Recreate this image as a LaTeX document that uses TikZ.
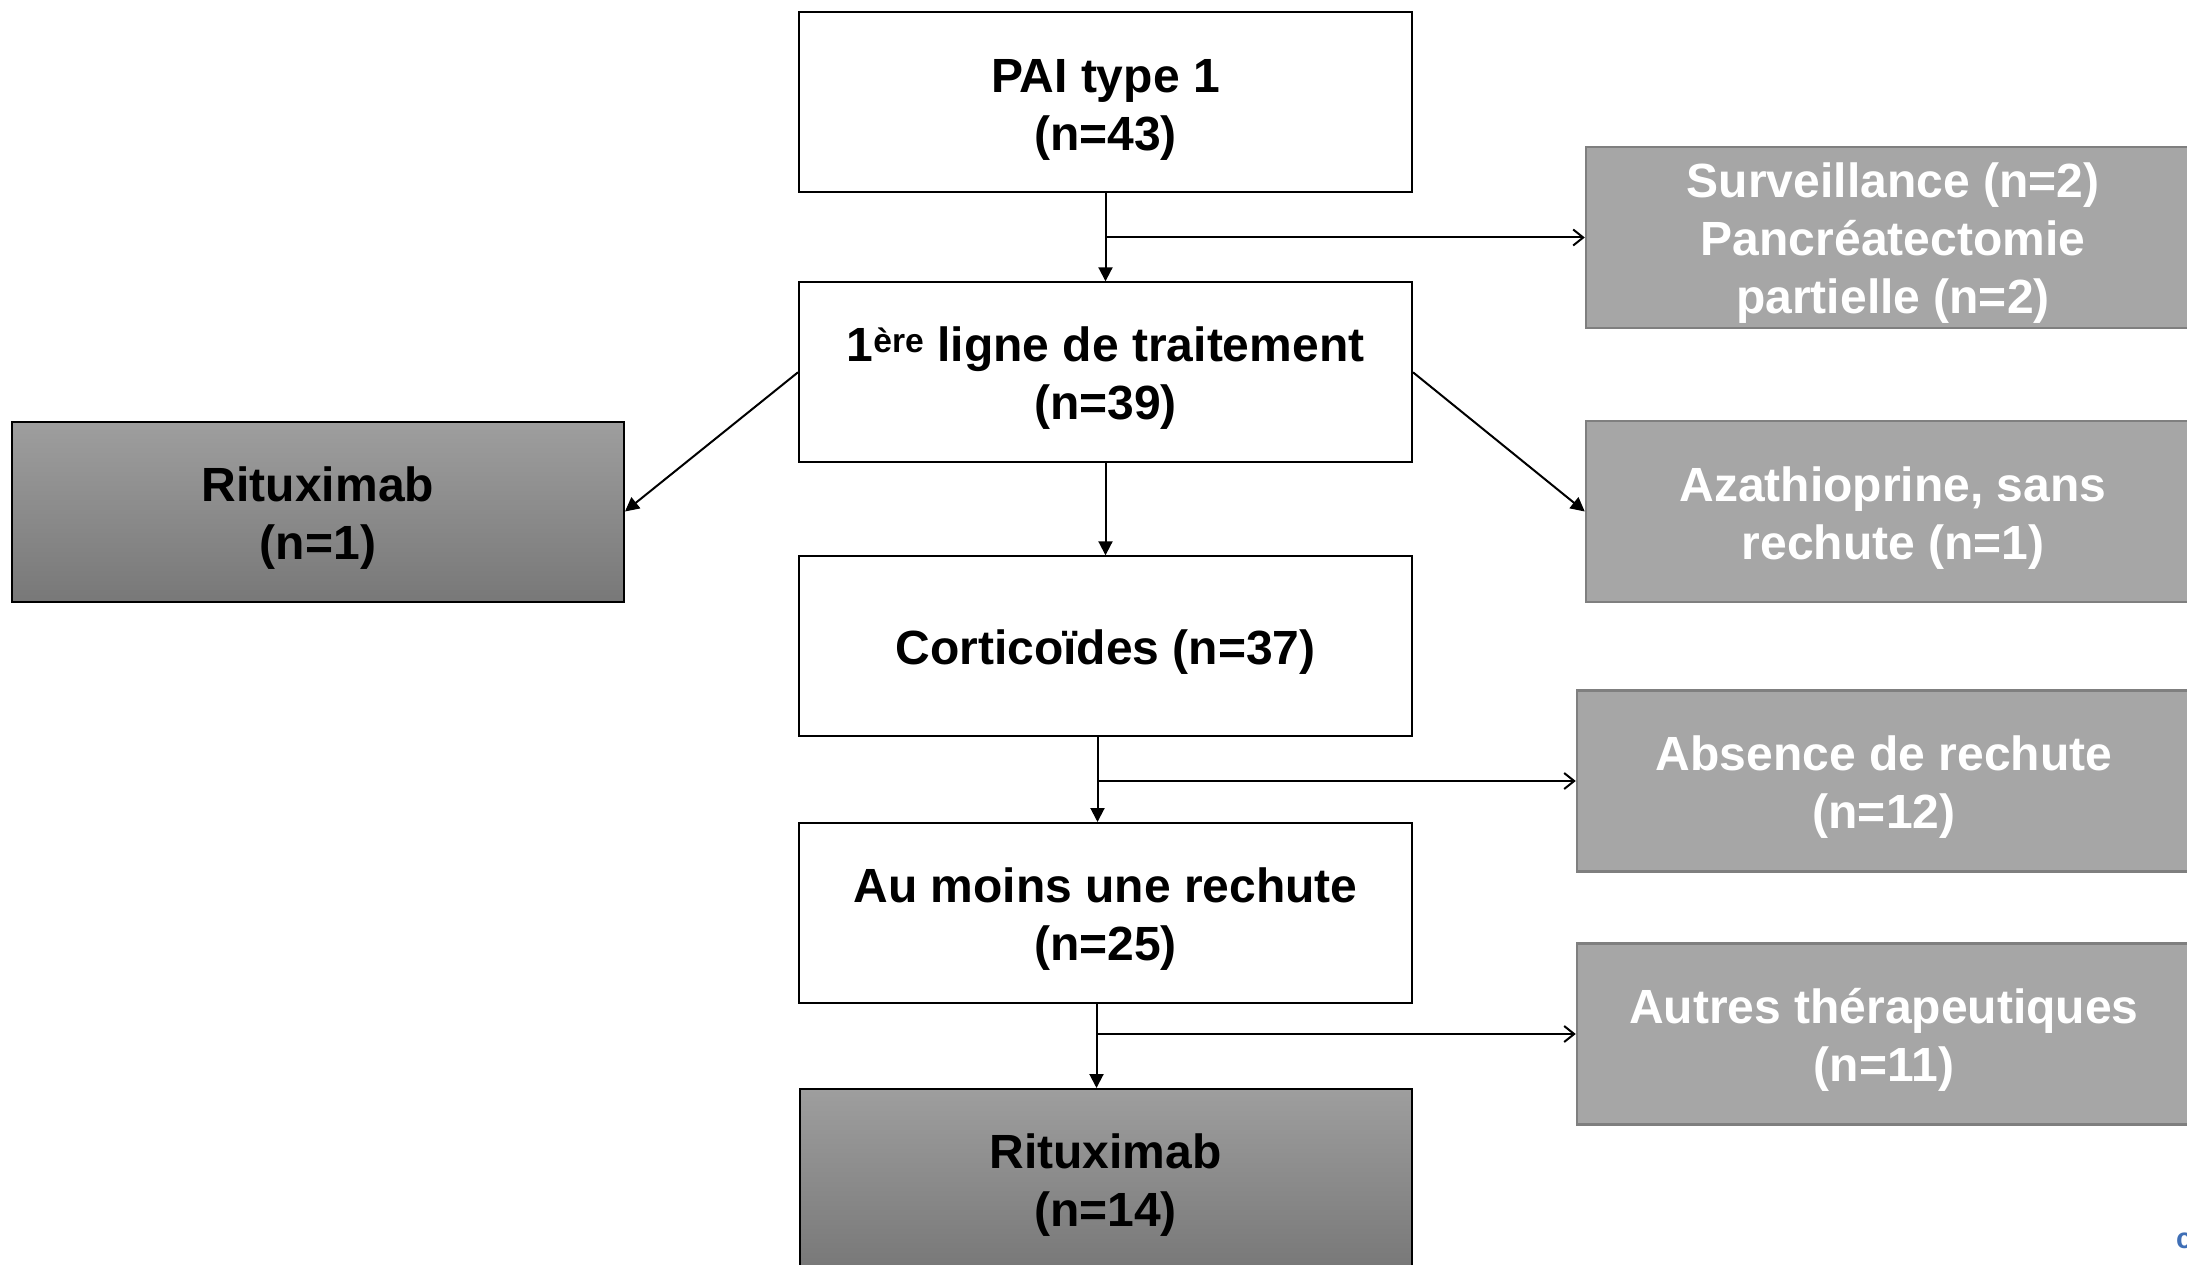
\documentclass[tikz,border=0pt]{standalone}
\usepackage{fontspec}
\setmainfont{Liberation Sans}
\usetikzlibrary{arrows.meta,calc}
\definecolor{grayfill}{HTML}{A6A6A6}
\definecolor{grayborder}{HTML}{7F7F7F}
\definecolor{rittop}{HTML}{9E9E9E}
\definecolor{ritbot}{HTML}{787878}
\definecolor{logoblue}{HTML}{3F6FB6}
\newcommand{\boxtext}[2][-7pt]{\raisebox{#1}[\height][\depth]{\begin{tabular}{@{}c@{}}#2\end{tabular}}}
\begin{document}
\begin{tikzpicture}[x=1pt,y=-1pt,
  txt/.style={font=\fontsize{48}{58}\selectfont\bfseries, inner sep=0pt},
  box/.style={txt, draw=black, line width=2pt, fill=white, minimum width=613pt, minimum height=180pt},
  ritbox/.style={txt, draw=black, line width=2pt, top color=rittop, bottom color=ritbot, minimum width=612pt, minimum height=180pt},
  graybox/.style={txt, draw=grayborder, line width=2.5pt, fill=grayfill, text=white, minimum width=614pt, minimum height=181pt},
  conn/.style={line width=2pt, -{Triangle[length=14pt,width=14pt]}},
  openconn/.style={line width=2pt, -{Straight Barb[length=10pt,width=16pt]}}]
\useasboundingbox (0,0) rectangle (2187,1265);
\clip (0,0) rectangle (2187,1265);
\fill[white] (0,0) rectangle (2187,1265);

\node[box] (pai) at (1105.5,102.5) {\boxtext{PAI type 1\\(n=43)}};
\node[box] (ligne) at (1105.5,372.3) {\boxtext{1\textsuperscript{ère} ligne de traitement\\(n=39)}};
\node[box] (cort) at (1105.5,646.3) {\boxtext[-7pt]{Corticoïdes (n=37)}};
\node[box] (moins) at (1105.5,913) {\boxtext{Au moins une rechute\\(n=25)}};
\node[ritbox] (ritb) at (1105.5,1179) {\boxtext{Rituximab\\(n=14)}};
\node[ritbox] (ritl) at (318,511.5) {\boxtext{Rituximab\\(n=1)}};

\node[graybox] (surv) at (1893,237.5) {\boxtext[-6pt]{Surveillance (n=2)\\Pancréatectomie\\partielle (n=2)}};
\node[graybox] (aza) at (1893,511.5) {\boxtext{Azathioprine, sans\\rechute (n=1)}};
\node[graybox] (abs) at (1884,781) {\boxtext{Absence de rechute\\(n=12)}};
\node[graybox] (autres) at (1884,1034) {\boxtext{Autres thérapeutiques\\(n=11)}};

\node[anchor=base west, inner sep=0pt, text=logoblue, font=\fontsize{29}{34}\selectfont\bfseries] (logo) at (2176,1248) {c};

% connectors
\draw[conn] (pai.south) -- (ligne.north);
\draw[openconn] (pai.south |- surv.west) -- (surv.west);
\draw[conn] (ligne.south) -- (cort.north);
\draw[conn] (ligne.west) -- (ritl.east);
\draw[conn] (ligne.east) -- (aza.west);

\coordinate (c1) at ($(cort.south)+(-8,0)$);
\draw[conn] (c1) -- (c1 |- moins.north);
\draw[openconn] (c1 |- abs.west) -- (abs.west);

\coordinate (c2) at ($(moins.south)+(-9,0)$);
\draw[conn] (c2) -- (c2 |- ritb.north);
\draw[openconn] (c2 |- autres.west) -- (autres.west);
\end{tikzpicture}
\end{document}
